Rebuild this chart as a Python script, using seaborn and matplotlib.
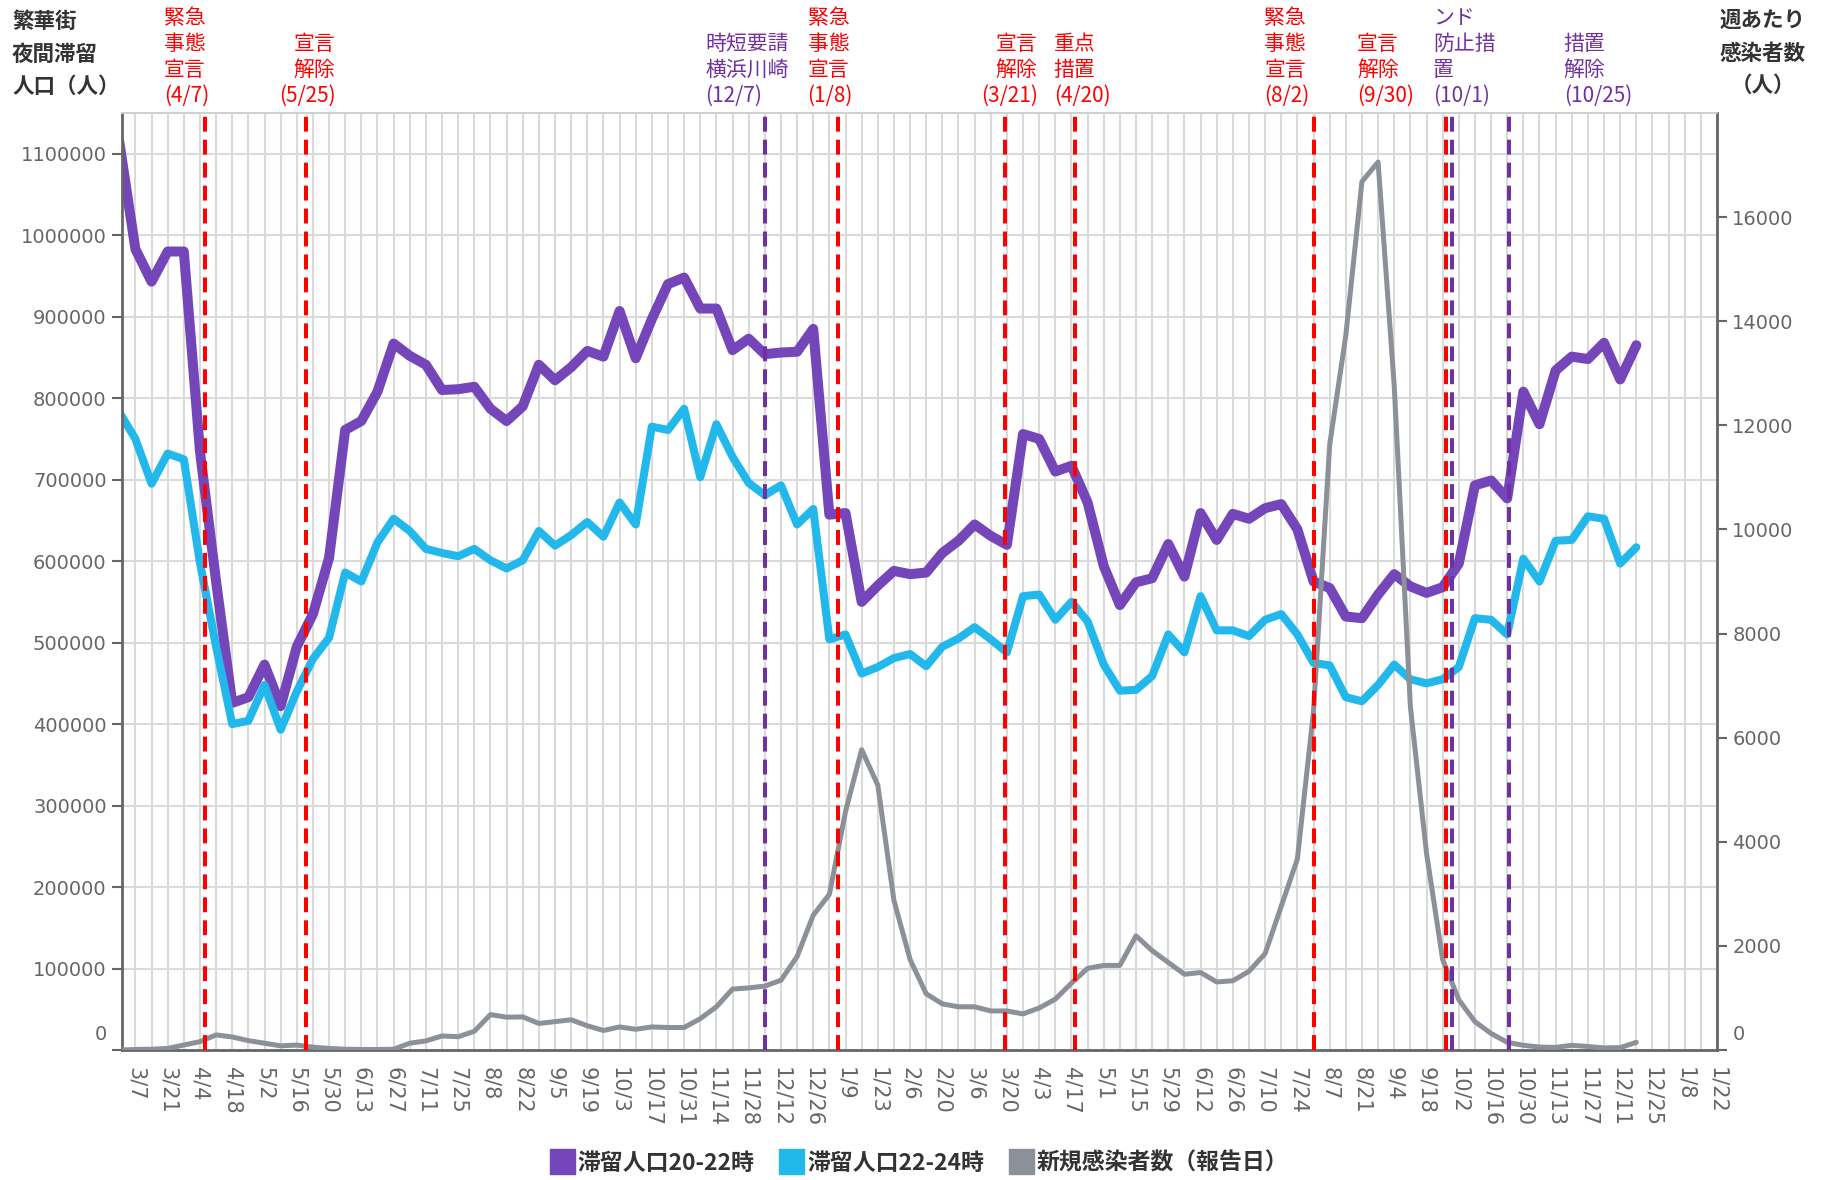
import numpy as np
import pandas as pd
import matplotlib
matplotlib.use('Agg')
import matplotlib.pyplot as plt
import matplotlib.transforms as mtransforms
from matplotlib.lines import Line2D
import seaborn as sns

# week index: 0 = 3/7/2020, one point per week (k = -1 lies just left of the axis)
week = list(range(-1, 94))

stay_20_22 = [
    1115000, 983000, 943000, 980000, 980000, 735000, 575000, 426000, 433000, 473000,
    422000, 495000, 535000, 604000, 761000, 772000, 808000, 867000, 852000, 841000,
    810000, 811000, 814000, 787000, 772000, 790000, 841000, 822000, 838000, 858000,
    851000, 907000, 849000, 897000, 940000, 948000, 910000, 910000, 859000, 873000,
    854000, 856000, 857000, 885000, 657000, 659000, 550000, 570000, 588000, 584000,
    586000, 610000, 625000, 645000, 631000, 620000, 756000, 750000, 710000, 717000,
    672000, 594000, 546000, 574000, 579000, 621000, 581000, 659000, 626000, 658000,
    652000, 665000, 670000, 639000, 575000, 567000, 532000, 530000, 559000, 584000,
    569000, 561000, 568000, 597000, 693000, 699000, 677000, 808000, 768000, 834000,
    851000, 848000, 868000, 823000, 865000,
]

stay_22_24 = [
    783000, 750000, 695000, 732000, 725000, 598000, 495000, 400000, 404000, 448000,
    393000, 440000, 480000, 506000, 586000, 575000, 623000, 652000, 637000, 615000,
    610000, 606000, 615000, 601000, 591000, 601000, 637000, 619000, 632000, 648000,
    630000, 672000, 645000, 765000, 761000, 787000, 703000, 768000, 728000, 696000,
    681000, 693000, 645000, 664000, 504000, 510000, 462000, 470000, 481000, 486000,
    471000, 495000, 505000, 519000, 504000, 488000, 557000, 559000, 528000, 550000,
    526000, 473000, 441000, 442000, 459000, 510000, 488000, 557000, 515000, 515000,
    508000, 528000, 535000, 510000, 475000, 472000, 433000, 428000, 448000, 473000,
    455000, 450000, 455000, 470000, 530000, 528000, 510000, 603000, 575000, 625000,
    626000, 655000, 652000, 597000, 617000,
]

new_cases = [
    0, 10, 15, 30, 96, 160, 290, 250, 180, 130,
    80, 95, 55, 30, 15, 10, 10, 15, 130, 175,
    270, 255, 360, 680, 630, 636, 510, 545, 580, 466,
    375, 443, 398, 443, 432, 432, 602, 830, 1170, 1193,
    1227, 1340, 1795, 2590, 2990, 4580, 5770, 5090, 2875, 1740,
    1080, 886, 830, 830, 750, 750, 693, 807, 977, 1284,
    1568, 1625, 1625, 2193, 1909, 1682, 1455, 1489, 1307, 1330,
    1511, 1852, 2761, 3670, 6511, 11625, 13727, 16682, 17057, 12761,
    6600, 3784, 1739, 966, 545, 318, 148, 90, 57, 50,
    90, 68, 40, 45, 148,
]

tick_labels = [
    '3/7', '3/21', '4/4', '4/18', '5/2', '5/16', '5/30', '6/13', '6/27', '7/11',
    '7/25', '8/8', '8/22', '9/5', '9/19', '10/3', '10/17', '10/31', '11/14', '11/28',
    '12/12', '12/26', '1/9', '1/23', '2/6', '2/20', '3/6', '3/20', '4/3', '4/17',
    '5/1', '5/15', '5/29', '6/12', '6/26', '7/10', '7/24', '8/7', '8/21', '9/4',
    '9/18', '10/2', '10/16', '10/30', '11/13', '11/27', '12/11', '12/25', '1/8', '1/22',
]

# policy events (position in weeks from 3/7/2020, as drawn)
event_week = [4.3, 10.6, 39.0, 43.56, 53.9, 58.2, 73.06, 81.2, 81.6, 85.1]
event_text = [
    '緊急\n事態\n宣言\n(4/7)', '宣言\n解除\n(5/25)', '時短要請\n横浜川崎\n(12/7)',
    '緊急\n事態\n宣言\n(1/8)', '宣言\n解除\n(3/21)', '重点\n措置\n(4/20)',
    '緊急\n事態\n宣言\n(8/2)', '宣言\n解除\n(9/30)', 'リバウ\nンド\n防止措\n置\n(10/1)',
    '措置\n解除\n(10/25)',
]
event_kind = ['red', 'red', 'purple', 'red', 'red', 'red', 'red', 'red', 'purple', 'purple']

# label placement (layout only)
label_x = [1.75, 12.4, 35.3, 41.65, 55.9, 56.9, 69.95, 75.7, 80.4, 88.5]
label_ha = ['left', 'right', 'left', 'left', 'right', 'left', 'left', 'left', 'left', 'left']

PURPLE = '#7446b9'
CYAN = '#22b8ec'
GRAY = '#8b9099'
EV_COLORS = {'red': '#ff0000', 'purple': '#7030a0'}
JP = ['Noto Sans CJK JP', 'DejaVu Sans']

sns.set_theme(style='white')
plt.rcParams['font.family'] = ['DejaVu Sans']

fig = plt.figure(figsize=(18.24, 11.8), dpi=100)
ax = fig.add_axes([122 / 1824, 1 - 1050 / 1180, (1717 - 122) / 1824, (1050 - 113) / 1180])
ax2 = ax.twinx()

df = pd.DataFrame({'week': week, 'a': stay_20_22, 'b': stay_22_24, 'c': new_cases})

sns.lineplot(data=df, x='week', y='a', ax=ax, color=PURPLE, lw=7.2, legend=False)
sns.lineplot(data=df, x='week', y='b', ax=ax, color=CYAN, lw=5.8, legend=False)
sns.lineplot(data=df, x='week', y='c', ax=ax2, color=GRAY, lw=3.6, legend=False)

ax.set_xlim(-0.83, 98)
ax.set_ylim(0, 1150000)
ax2.set_ylim(0, 18000)

left_ticks = list(range(0, 1100001, 100000))
ax.set_yticks(left_ticks, labels=[str(v) for v in left_ticks])
right_ticks = list(range(0, 16001, 2000))
ax2.set_yticks(right_ticks, labels=[str(v) for v in right_ticks])

ax.set_xticks(range(0, 99))
ax.set_xticklabels([tick_labels[i // 2] if i % 2 == 0 else '' for i in range(0, 99)],
                   rotation=-90, va='top', ha='center')

for a in (ax, ax2):
    a.set_xlabel('')
    a.set_ylabel('')
    a.tick_params(axis='both', which='major', length=7, width=1.5, color='#666666',
                  labelsize=14, labelcolor='#666666', pad=4)
ax.tick_params(axis='x', labelsize=15, pad=5)

ax.grid(True, axis='both', color='#dadada', lw=1.5)
ax2.grid(False)
ax.set_axisbelow(True)

for s in ('left', 'bottom'):
    ax.spines[s].set_color('#666666')
    ax.spines[s].set_linewidth(2)
ax2.spines['right'].set_color('#666666')
ax2.spines['right'].set_linewidth(2)
ax2.spines['left'].set_visible(False)
ax2.spines['bottom'].set_visible(False)
ax.spines['top'].set_color('#d0d0d0')
ax2.spines['top'].set_color('#d0d0d0')
ax.spines['right'].set_visible(False)

# raise the "0" labels a little like the original
up = mtransforms.ScaledTranslation(0, 18 / 100, fig.dpi_scale_trans)
for a in (ax, ax2):
    t0 = a.yaxis.get_major_ticks()[0]
    t0.label1.set_transform(t0.label1.get_transform() + up)
    t0.label2.set_transform(t0.label2.get_transform() + up)

# event lines and labels
tr = mtransforms.blended_transform_factory(ax.transData, ax.transAxes)
for xw, txt, kind, lx, ha in zip(event_week, event_text, event_kind, label_x, label_ha):
    c = EV_COLORS[kind]
    ax2.axvline(xw, color=c, lw=2.9, linestyle=(0, (3.7, 2.0)), zorder=10)
    ax.text(lx, 1.007, txt, transform=tr, ha=ha, va='bottom', color=c,
            fontsize=15, family=JP, linespacing=1.22, multialignment=ha)

# axis titles
fig.text(12 / 1824, 1 - 11 / 1180, '繁華街\n夜間滞留\n人口（人）', ha='left', va='top',
         fontsize=15.5, fontweight='bold', color='#333333', family=JP, linespacing=1.68)
fig.text(1763 / 1824, 1 - 10 / 1180, '週あたり\n感染者数\n（人）', ha='center', va='top',
         fontsize=15.5, fontweight='bold', color='#333333', family=JP, linespacing=1.68,
         multialignment='center')

handles = [Line2D([], [], marker='s', linestyle='', markersize=18, color=c)
           for c in (PURPLE, CYAN, GRAY)]
fig.legend(handles, ['滞留人口20-22時', '滞留人口22-24時', '新規感染者数（報告日）'],
           loc='center', bbox_to_anchor=(0.504, 0.0144), ncol=3, frameon=False,
           prop={'family': JP, 'weight': 'bold', 'size': 16.5}, labelcolor='#333333',
           handletextpad=0.2, columnspacing=1.1, handlelength=1.0)

fig.savefig('out.png', dpi=100)
